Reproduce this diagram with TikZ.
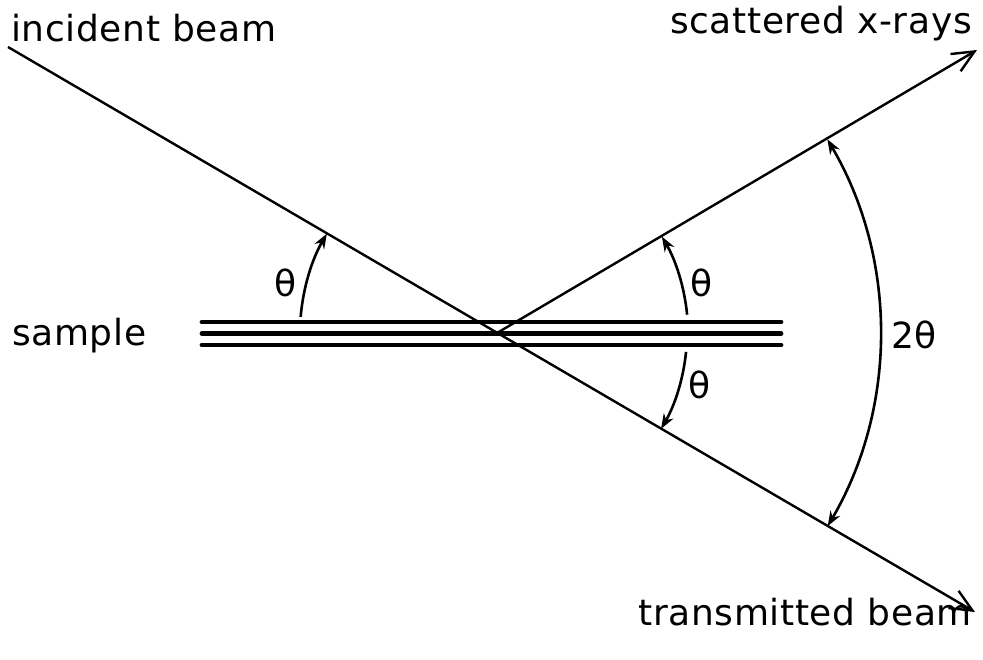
\documentclass[tikz,border=0pt]{standalone}
\usepackage{fontspec}
\setmainfont[LetterSpace=1.8]{DejaVu Sans}
\usetikzlibrary{arrows.meta}
\begin{document}
\begin{tikzpicture}[x=1pt,y=1pt,
  lab/.style={inner sep=0pt,font=\fontsize{36}{40}\selectfont},
  beam/.style={line width=2.4pt},
  endarrow/.style={-{Straight Barb[length=22pt,width=20pt,line width=2.4pt]}},
  samp/.style={line width=4.8pt,line cap=round},
  arcarrow/.style={line width=2.6pt,-{Stealth[length=15pt,width=11pt]}},
  arcboth/.style={line width=2.6pt,{Stealth[length=15pt,width=11pt]}-{Stealth[length=15pt,width=11pt]}}]
\useasboundingbox (0,0) rectangle (983,-659);
% beams
\coordinate (inc) at (8,-47);
\coordinate (tr) at (975,-612);
\coordinate (O) at (497,-333);
\coordinate (sc) at (977,-50);
% sample
\draw[samp] (202,-322) -- (781,-322);
\draw[samp] (202,-333.5) -- (781,-333.5);
\draw[samp] (202,-345) -- (781,-345);
\draw[beam,endarrow] (inc) -- (tr);
\draw[beam,endarrow] (O) -- (sc);
% angle arcs
\draw[arcarrow] ([shift={(175.3:197pt)}]O) arc[start angle=175.3,end angle=149.7,radius=197pt];
\draw[arcarrow] ([shift={(5.5:191pt)}]O) arc[start angle=5.5,end angle=30.3,radius=191pt];
\draw[arcarrow] ([shift={(-5.7:190pt)}]O) arc[start angle=-5.7,end angle=-30.3,radius=190pt];
\draw[arcboth] ([shift={(30.4:383pt)}]O) arc[start angle=30.4,end angle=-30.3,radius=383pt];
% labels
\node[lab,anchor=base west] (tinc) at (11,-41) {incident beam};
\node[lab,anchor=base east] (tsc) at (972,-33) {scattered x-rays};
\node[lab,anchor=base east] (ttr) at (972,-625) {transmitted beam};
\node[lab,anchor=base west] (tsa) at (12,-345) {sample};
\node[lab] (th1) at (286,-283) {θ};
\node[lab] (th2) at (702,-283) {θ};
\node[lab] (th3) at (700,-385) {θ};
\node[lab] (th4) at (914,-335) {2θ};
\end{tikzpicture}
\end{document}
